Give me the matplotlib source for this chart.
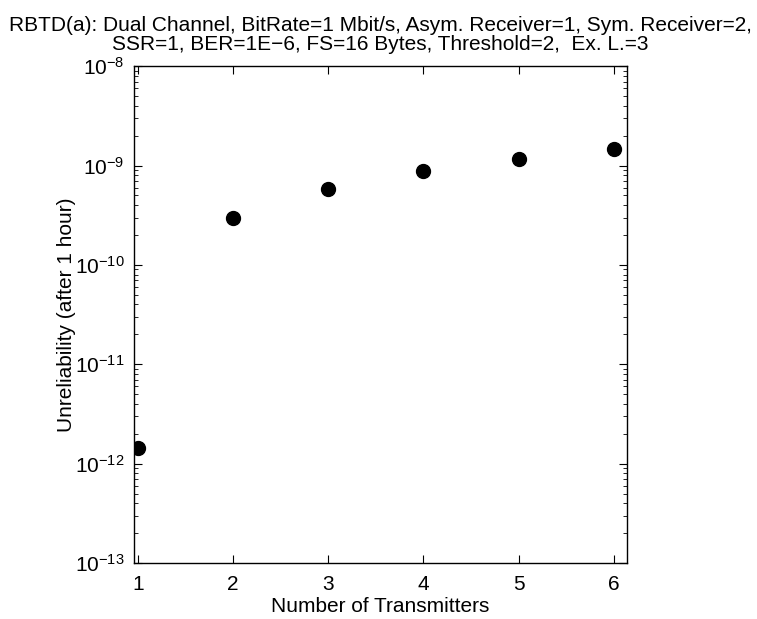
import numpy as np
import matplotlib
matplotlib.use("Agg")
import matplotlib.pyplot as plt

# values
transmitters = [1, 2, 3, 4, 5, 6]
unreliability = [1.44e-12, 2.95e-10, 5.8e-10, 8.8e-10, 1.16e-9, 1.46e-9]

title = ("RBTD(a): Dual Channel, BitRate=1 Mbit/s, Asym. Receiver=1, Sym. Receiver=2,\n"
         "SSR=1, BER=1E\u22126, FS=16 Bytes, Threshold=2,  Ex. L.=3")

plt.rcParams['font.family'] = ['Liberation Sans', 'DejaVu Sans']
plt.rcParams['font.size'] = 15
plt.rcParams['axes.unicode_minus'] = True

fig = plt.figure(figsize=(7.57, 6.19), dpi=100)
ax = fig.add_axes([0.177, 0.0905, 0.651, 0.8025])

ax.semilogy(transmitters, unreliability, 'o', color='black', markersize=10)

ax.set_xlim(0.958, 6.137)
ax.set_ylim(1e-13, 1e-8)
ax.set_xticks(transmitters)
ax.set_xlabel("Number of Transmitters", labelpad=2)
ax.set_ylabel("Unreliability (after 1 hour)", labelpad=-1)
ax.set_title(title, fontsize=15, pad=12, linespacing=1.0)

ax.tick_params(which='both', direction='in', top=True, right=True)
ax.tick_params(axis='x', pad=9)
ax.tick_params(axis='y', pad=7)
ax.tick_params(which='major', length=6, width=0.8)
ax.tick_params(which='minor', length=3, width=0.6)
for s in ax.spines.values():
    s.set_linewidth(1.0)

fig.savefig("out.png", dpi=100)
